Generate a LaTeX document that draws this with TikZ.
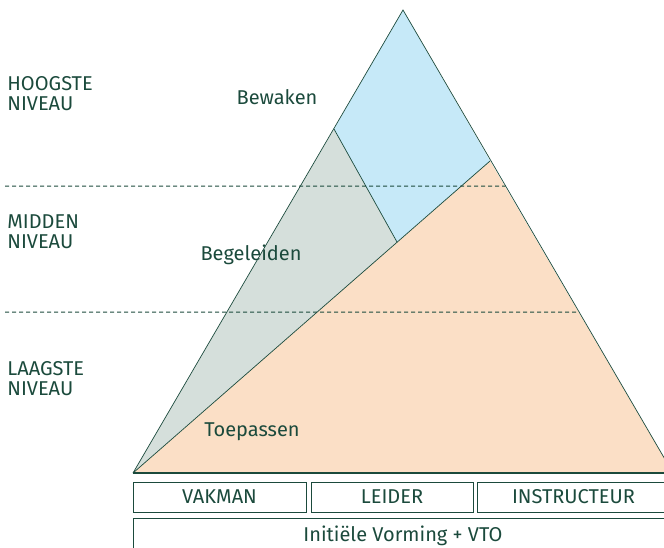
\documentclass[tikz,border=0pt]{standalone}
\usepackage{fontspec}
\setmainfont{Fira Sans}
\usetikzlibrary{calc}
\definecolor{ink}{HTML}{1B4A3C}
\definecolor{topfill}{HTML}{C6E9F8}
\definecolor{midfill}{HTML}{D5DFDB}
\definecolor{lowfill}{HTML}{FBDFC6}
\tikzset{
  lbl/.style={text=ink, font=\fontsize{20}{20}\selectfont},
  lvl/.style={lbl, anchor=west, align=left, inner sep=2pt},
  rolebox/.style={lbl, draw=ink, line width=0.7pt, minimum height=30pt, inner sep=0pt},
  lvlline/.style={draw=ink, line width=1pt, dash pattern=on 4pt off 3pt}
}
\begin{document}
\begin{tikzpicture}[x=1pt, y=-1pt, line width=0.7pt]
            \useasboundingbox (0, 0) rectangle (664, 547);
            \clip (0, 0) rectangle (664, 547);
            \coordinate (apex) at (403, 10);
            \coordinate (bl) at (133, 473);
            \coordinate (br) at (673, 473);
            \coordinate (pl) at (334, 129);
            \coordinate (pr) at (490, 161);
            \coordinate (pm) at (397, 242);
            \fill[lowfill] (bl) -- (pr) -- (br) -- cycle;
            \fill[midfill] (bl) -- (pl) -- (pm) -- cycle;
            \fill[topfill] (apex) -- (pr) -- (pm) -- (pl) -- cycle;
            \draw[ink] (bl) -- (apex) -- (br);
            \draw[ink] (bl) -- (pr);
            \draw[ink] (pl) -- (pm);
            \draw[ink, line width=2.4pt] (bl) -- (br);
            \draw[lvlline] (5, 186) -- ($(apex)!176/463!(br)$);
            \draw[lvlline] (5, 312) -- ($(apex)!302/463!(br)$);
            \node[lbl] (bewaken) at (277, 97) {Bewaken};
            \node[lbl] (begeleiden) at (251, 255) {Begeleiden};
            \node[lbl] (toepassen) at (252, 432) {Toepassen};
            \node[lvl] (hoog) at (5, 94) {HOOGSTE\\NIVEAU};
            \node[lvl] (midden) at (5, 232) {MIDDEN\\NIVEAU};
            \node[lvl] (laag) at (5, 379) {LAAGSTE\\NIVEAU};
            \node[rolebox, minimum width=173pt] (vakman) at (219.5, 497) {VAKMAN};
            \node[rolebox, minimum width=162pt] (leider) at (392, 497) {LEIDER};
            \node[rolebox, minimum width=193pt, text width=182pt, align=center] (instructeur) at (573.5, 497) {INSTRUCTEUR};
            \node[rolebox, minimum width=540pt, minimum height=36pt] (vorming) at (403, 536) {Initiële Vorming + VTO};
        \end{tikzpicture}
\end{document}
